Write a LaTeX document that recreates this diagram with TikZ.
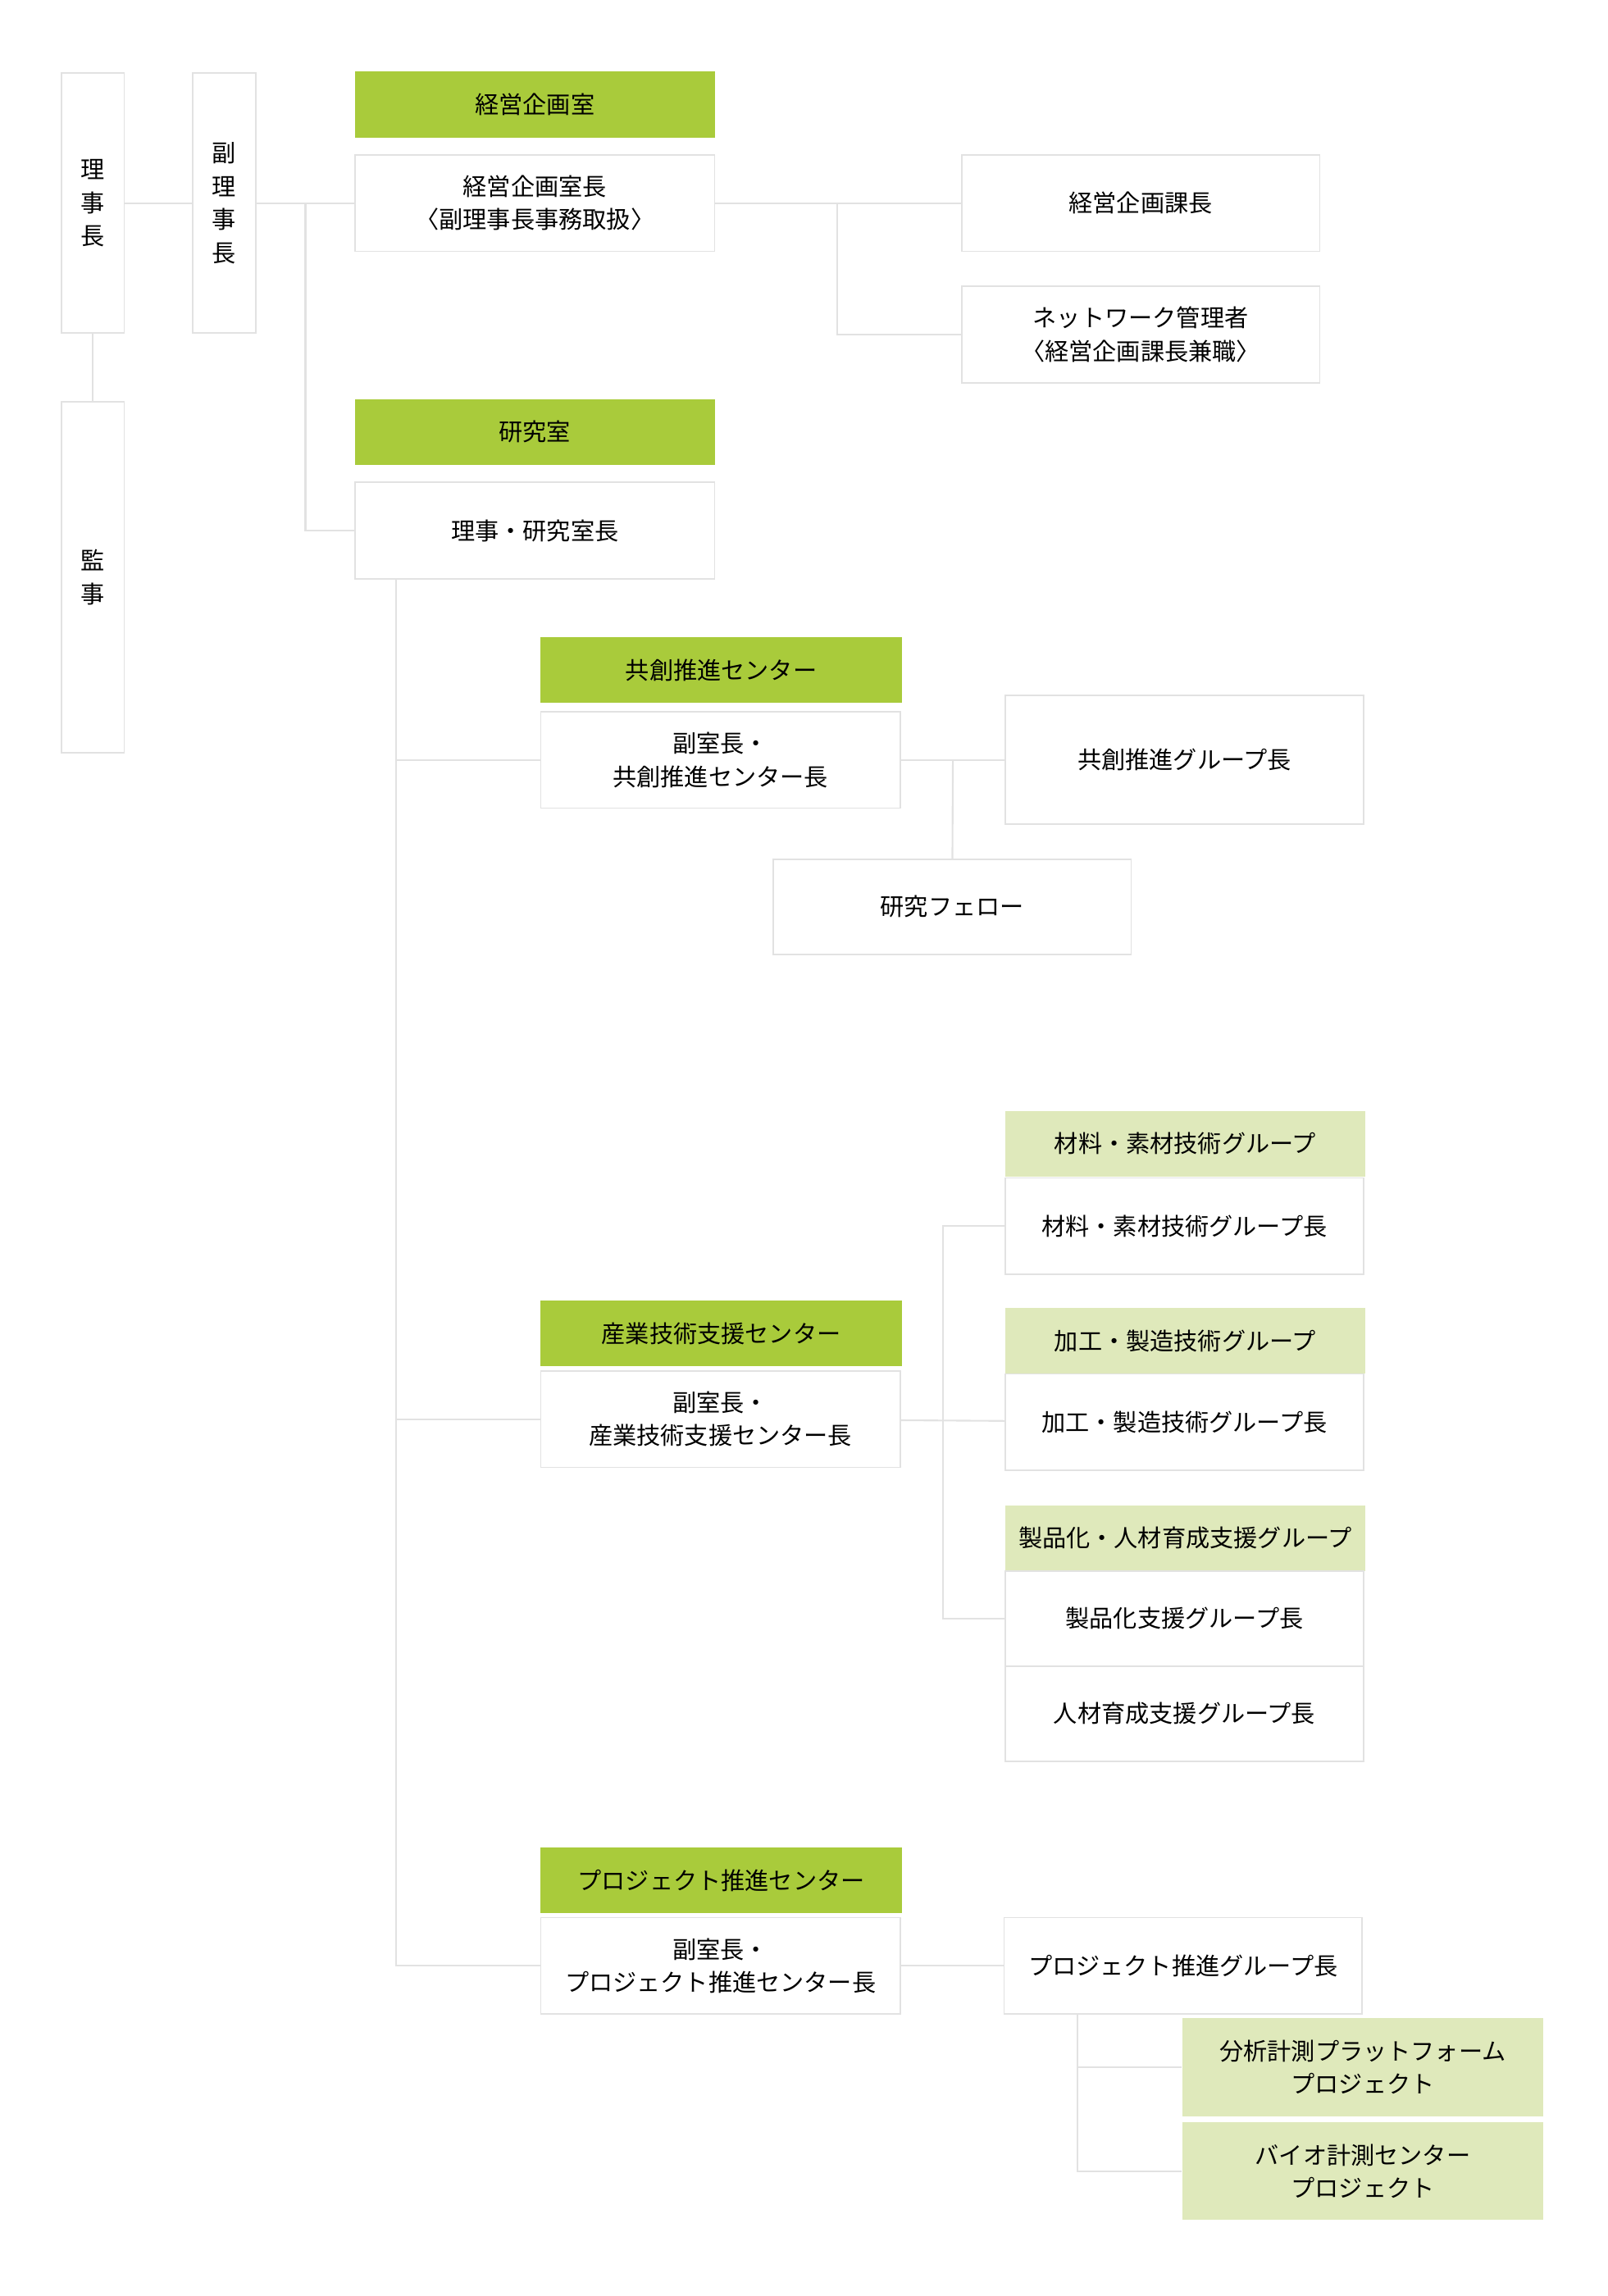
\documentclass[tikz,border=0pt]{standalone}
\usepackage{fontspec}
\setmainfont{Noto Sans CJK JP}
\usetikzlibrary{positioning}
\definecolor{LeafGreen}{HTML}{A9CB3B}
\definecolor{PaleGreen}{HTML}{DFE9BB}
\definecolor{FrameGray}{HTML}{E2E2E2}
\def\u{0.1782mm}
\tikzset{
  box/.style 2 args={draw=FrameGray,line width=0.5pt,fill=white,inner sep=0pt,
    minimum width=#1*\u,minimum height=#2*\u,align=center,
    font=\fontsize{8.3}{11.5}\selectfont},
  head/.style 2 args={box={#1}{#2},draw=none,fill=LeafGreen},
  palehead/.style 2 args={box={#1}{#2},draw=none,fill=PaleGreen},
  link/.style={draw=FrameGray,line width=0.6pt}
}
\begin{document}
\begin{tikzpicture}[x=\u,y=-\u]
  \useasboundingbox (0,0) rectangle (1100,1571);
  % executives
  \node[box={43}{178}] (chair) at (63.5,139) {理\\事\\長};
  \node[box={43}{178}] (vice) at (153.5,139) {副\\理\\事\\長};
  \node[box={43}{240}] (audit) at (63.5,395) {監\\事};
  % planning office
  \node[head={246}{45}] (planhd) at (366,71.5) {経営企画室};
  \node[box={246}{66}] (planchief) at (366,139) {経営企画室長\\〈副理事長事務取扱〉};
  \node[box={245}{66}] (plansec) at (780.5,139) {経営企画課長};
  \node[box={245}{66}] (netadmin) at (780.5,229) {ネットワーク管理者\\〈経営企画課長兼職〉};
  % research office
  \node[head={246}{45}] (reshd) at (366,295.5) {研究室};
  \node[box={246}{66}] (reschief) at (366,363) {理事・研究室長};
  % co-creation center
  \node[head={247}{45}] (cocohd) at (493.5,458.5) {共創推進センター};
  \node[box={246}{66}] (cocochief) at (493,520) {副室長・\\共創推進センター長};
  \node[box={245}{88}] (cocogrp) at (810.5,520) {共創推進グループ長};
  \node[box={245}{65}] (fellow) at (651.5,620.5) {研究フェロー};
  % industrial support center
  \node[head={247}{45}] (indhd) at (493.5,912.5) {産業技術支援センター};
  \node[box={246}{66}] (indchief) at (493,971) {副室長・\\産業技術支援センター長};
  \node[palehead={246}{45}] (mathd) at (811,782.5) {材料・素材技術グループ};
  \node[box={245}{66}] (matchief) at (810.5,839) {材料・素材技術グループ長};
  \node[palehead={246}{45}] (prochd) at (811,917.5) {加工・製造技術グループ};
  \node[box={245}{66}] (procchief) at (810.5,973) {加工・製造技術グループ長};
  \node[palehead={246}{45}] (prodhd) at (811,1052.5) {製品化・人材育成支援グループ};
  \node[box={245}{65}] (prodchief) at (810.5,1107.5) {製品化支援グループ長};
  \node[box={245}{65}] (hrchief) at (810.5,1172.5) {人材育成支援グループ長};
  % project center
  \node[head={247}{45}] (projhd) at (493.5,1286.5) {プロジェクト推進センター};
  \node[box={246}{66}] (projchief) at (493,1345) {副室長・\\プロジェクト推進センター長};
  \node[box={245}{66}] (projgrp) at (809.5,1345) {プロジェクト推進グループ長};
  \node[palehead={247}{67}] (anaproj) at (932.5,1414.5) {分析計測プラットフォーム\\プロジェクト};
  \node[palehead={247}{67}] (bioproj) at (932.5,1485.5) {バイオ計測センター\\プロジェクト};
  % connectors
  \coordinate (vtap) at (209,139);
  \coordinate (ptap) at (573,139);
  \coordinate (rtrunk) at (271,396);
  \coordinate (ftap) at (652,520);
  \coordinate (itap) at (645,971);
  \coordinate (jtap) at (737,1378);
  \draw[link] (chair) -- (vice);
  \draw[link] (chair) -- (audit);
  \draw[link] (vice) -- (planchief);
  \draw[link] (vtap) |- (reschief);
  \draw[link] (planchief) -- (plansec);
  \draw[link] (ptap) |- (netadmin);
  \draw[link] (rtrunk) |- (cocochief);
  \draw[link] (rtrunk) |- (indchief);
  \draw[link] (rtrunk) |- (projchief);
  \draw[link] (cocochief) -- (cocogrp);
  \draw[link] (ftap) -- (fellow);
  \draw[link] (indchief) -- (procchief);
  \draw[link] (itap) |- (matchief);
  \draw[link] (itap) |- (prodchief);
  \draw[link] (projchief) -- (projgrp);
  \draw[link] (jtap) |- (anaproj);
  \draw[link] (jtap) |- (bioproj);
\end{tikzpicture}
\end{document}
